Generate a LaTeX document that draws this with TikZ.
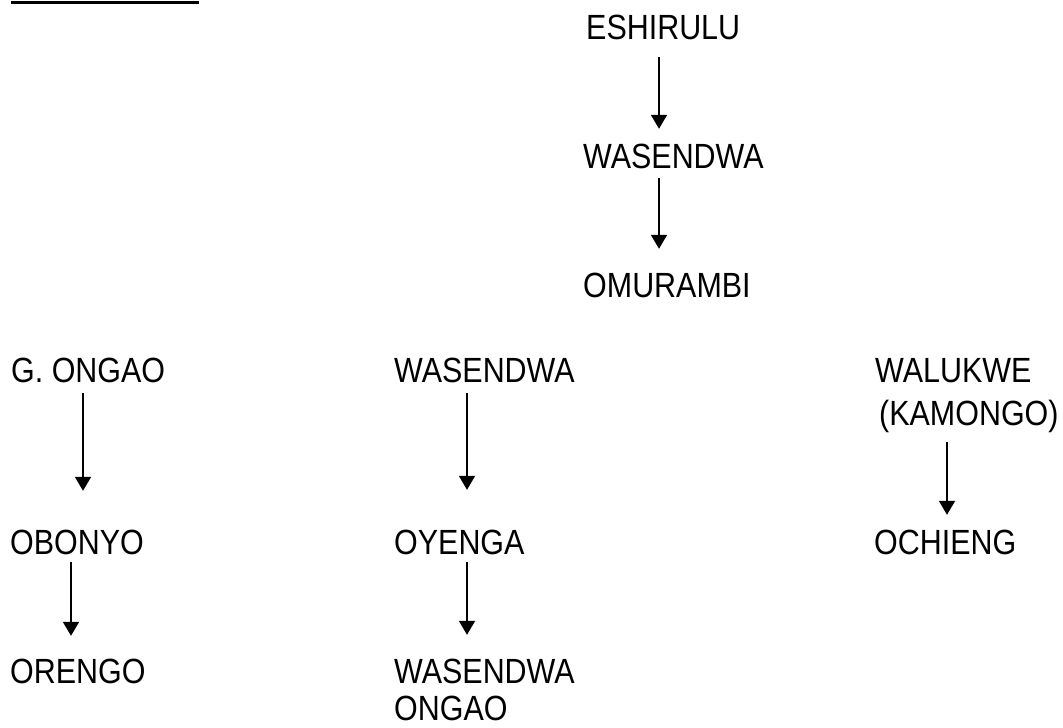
\documentclass[tikz,border=0pt]{standalone}
\usepackage{fontspec}
\setmainfont[FakeStretch=0.87]{Liberation Sans}
\usepackage{tikz}
\usetikzlibrary{arrows.meta,positioning}
\tikzset{
	lbl/.style={anchor=base west,inner sep=0pt,text height=25pt,text depth=0pt,font=\fontsize{35}{44}\selectfont},
	arr/.style={-{Triangle[length=14pt,width=16pt]},line width=1.8pt}
}
\begin{document}
\begin{tikzpicture}[x=1pt,y=-1pt]
		\useasboundingbox (0,0) rectangle (1063,728);
		\draw[line width=3pt] (11,2.5) -- (199,2.5);
		\node[lbl] (e) at (586,39) {ESHIRULU};
		\node[lbl] (w1) at (583,168) {WASENDWA};
		\node[lbl] (om) at (583,297) {OMURAMBI};
		\node[lbl] (go) at (11,382) {G. ONGAO};
		\node[lbl] (w2) at (394,382) {WASENDWA};
		\node[lbl] (wk) at (875,382) {WALUKWE};
		\node[lbl] (km) at (879,425) {(KAMONGO)};
		\node[lbl] (ob) at (10,554) {OBONYO};
		\node[lbl] (oy) at (394,554) {OYENGA};
		\node[lbl] (oc) at (874,554) {OCHIENG};
		\node[lbl] (or) at (10,683) {ORENGO};
		\node[lbl] (w3) at (394,683) {WASENDWA};
		\node[lbl] (on) at (394,720) {ONGAO};
		\foreach \a/\b/\x/\s/\t in {e/w1/659/18pt/14pt,w1/om/659/10pt/23pt,go/ob/83/11pt/38pt,ob/or/71/8pt/22pt,w2/oy/467/11pt/39pt,oy/w3/467/8pt/23pt,km/oc/947/17pt/14pt}
			\draw[arr,shorten <=\s,shorten >=\t] (\a.south -| \x,0) -- (\b.north -| \x,0);
	\end{tikzpicture}
\end{document}
